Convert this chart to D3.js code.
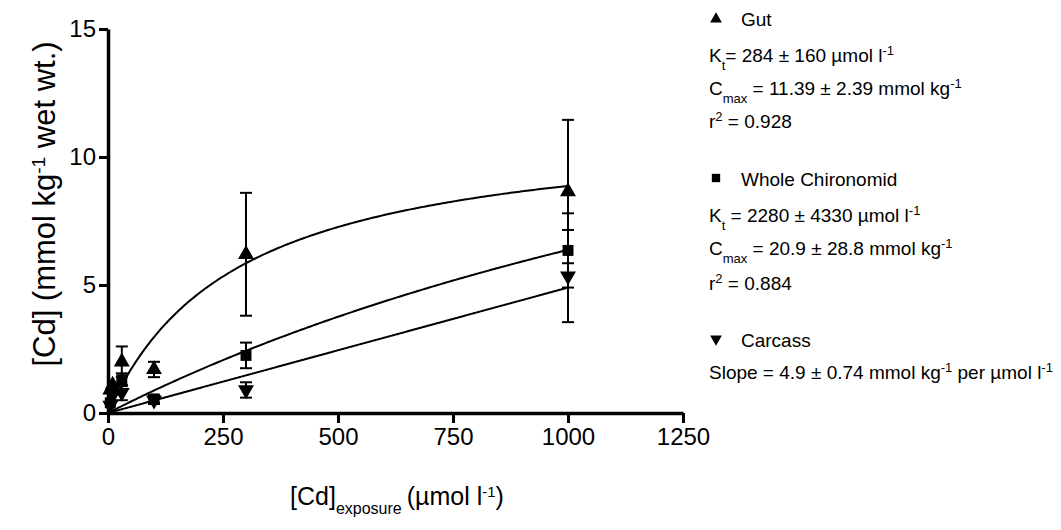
<!DOCTYPE html>
<html>
<head>
<meta charset="utf-8">
<script src="https://cdn.jsdelivr.net/npm/d3@7"></script>
<style>
  body { margin: 0; background: #fff; }
  svg { display: block; font-family: "Liberation Sans", Arial, sans-serif; }
</style>
</head>
<body>
<div id="chart"></div>
<script>
// exposure concentrations (umol/l) and measured Cd (mmol/kg wet wt)
const gutX = [5, 10, 30, 100, 300, 1000];
const gutY = [0.9, 1.1, 2.0, 1.7, 6.2, 8.65];
const gutErr = [0, 0, 0.6, 0.3, 2.4, 2.8];

const wholeX = [5, 10, 30, 100, 300, 1000];
const wholeY = [0.4, 1.0, 1.3, 0.55, 2.25, 6.35];
const wholeErr = [0, 0, 0.25, 0.15, 0.5, 1.45];

const carcassX = [5, 10, 30, 100, 300, 1000];
const carcassY = [0.3, 0.7, 0.8, 0.5, 0.9, 5.35];
const carcassErr = [0, 0, 0.3, 0.15, 0.3, 1.8];

// fitted parameters shown in the legend
const gutKt = 284, gutCmax = 11.39;
const wholeKt = 2280, wholeCmax = 20.9;
const carcassSlope = 0.0049;

const xTicks = [0, 250, 500, 750, 1000, 1250];
const yTicks = [0, 5, 10, 15];

const width = 1061, height = 530;

const svg = d3.select("#chart").append("svg")
  .attr("width", width)
  .attr("height", height);

const x = d3.scaleLinear().domain([0, 1250]).range([108, 683]);
const y = d3.scaleLinear().domain([0, 15]).range([413, 29]);

// axes
const xAxis = svg.append("g")
  .attr("transform", `translate(0,${y(0)})`)
  .call(d3.axisBottom(x).tickValues(xTicks).tickFormat(d3.format("d"))
    .tickSize(10).tickPadding(5).tickSizeOuter(0));

const yAxis = svg.append("g")
  .attr("transform", `translate(${x(0)},0)`)
  .call(d3.axisLeft(y).tickValues(yTicks).tickFormat(d3.format("d"))
    .tickSize(9).tickPadding(3).tickSizeOuter(0));

[xAxis, yAxis].forEach(a => {
  a.select(".domain").attr("stroke", "#000").attr("stroke-width", 3.5);
  a.selectAll(".tick line").attr("stroke", "#000").attr("stroke-width", 3);
  a.selectAll(".tick text")
    .attr("fill", "#000")
    .style("font-size", "24px")
    .style("font-family", "Liberation Sans, Arial, sans-serif");
});

// axis titles
const yTitle = svg.append("text")
  .attr("transform", `translate(55,${204}) rotate(-90)`)
  .attr("text-anchor", "middle")
  .style("font-size", "31px");
yTitle.append("tspan").text("[Cd] (mmol kg");
yTitle.append("tspan").attr("baseline-shift", "super").style("font-size", "19px").text("-1");
yTitle.append("tspan").text(" wet wt.)");

const xTitle = svg.append("text")
  .attr("x", 397)
  .attr("y", 505)
  .attr("text-anchor", "middle")
  .style("font-size", "25px");
xTitle.append("tspan").text("[Cd]");
xTitle.append("tspan").attr("baseline-shift", "sub").style("font-size", "16px").text("exposure");
xTitle.append("tspan").attr("dx", 5).text("(\u00b5mol l");
xTitle.append("tspan").attr("baseline-shift", "super").style("font-size", "15px").text("-1");
xTitle.append("tspan").text(")");

// fitted curves
const curveX = d3.range(0, 1001, 5);
const line = d3.line().x(d => x(d[0])).y(d => y(d[1]));

svg.append("path")
  .datum(curveX.map(c => [c, gutCmax * c / (gutKt + c)]))
  .attr("d", line).attr("fill", "none").attr("stroke", "#000").attr("stroke-width", 2);

svg.append("path")
  .datum(curveX.map(c => [c, wholeCmax * c / (wholeKt + c)]))
  .attr("d", line).attr("fill", "none").attr("stroke", "#000").attr("stroke-width", 2);

svg.append("path")
  .datum(curveX.map(c => [c, carcassSlope * c]))
  .attr("d", line).attr("fill", "none").attr("stroke", "#000").attr("stroke-width", 2);

// markers
const triUp = d3.symbol().type(d3.symbolTriangle).size(110);
const square = d3.symbol().type(d3.symbolSquare).size(120);

function drawSeries(xs, ys, errs, sym, rot) {
  const data = xs.map((v, i) => ({ x: v, y: ys[i], e: errs[i] }));
  const g = svg.append("g");

  const eb = g.selectAll(".err")
    .data(data.filter(d => d.e > 0))
    .enter().append("g");
  eb.append("line")
    .attr("x1", d => x(d.x)).attr("x2", d => x(d.x))
    .attr("y1", d => y(d.y - d.e)).attr("y2", d => y(d.y + d.e))
    .attr("stroke", "#000").attr("stroke-width", 2);
  eb.append("line")
    .attr("x1", d => x(d.x) - 6).attr("x2", d => x(d.x) + 6)
    .attr("y1", d => y(d.y + d.e)).attr("y2", d => y(d.y + d.e))
    .attr("stroke", "#000").attr("stroke-width", 2);
  eb.append("line")
    .attr("x1", d => x(d.x) - 6).attr("x2", d => x(d.x) + 6)
    .attr("y1", d => y(d.y - d.e)).attr("y2", d => y(d.y - d.e))
    .attr("stroke", "#000").attr("stroke-width", 2);

  g.selectAll(".pt")
    .data(data)
    .enter().append("path")
    .attr("d", sym)
    .attr("fill", "#000")
    .attr("transform", d => `translate(${x(d.x)},${y(d.y)}) rotate(${rot})`);
}

drawSeries(gutX, gutY, gutErr, triUp, 0);
drawSeries(wholeX, wholeY, wholeErr, square, 0);
drawSeries(carcassX, carcassY, carcassErr, triUp, 180);

// legend / fit statistics
const legend = svg.append("g").style("font-size", "19px");

function legendLine(yPos, xPos, parts) {
  const t = legend.append("text").attr("x", xPos).attr("y", yPos);
  parts.forEach(p => {
    const s = t.append("tspan").text(p[0]);
    if (p[1] === "sub") s.attr("baseline-shift", "sub").style("font-size", "13px");
    if (p[1] === "sup") s.attr("baseline-shift", "super").style("font-size", "13px");
  });
}

const legendSym = d3.symbol().type(d3.symbolTriangle).size(60);
legend.append("path").attr("d", legendSym).attr("transform", "translate(716,19)");
legend.append("path").attr("d", d3.symbol().type(d3.symbolSquare).size(70)).attr("transform", "translate(716,178)");
legend.append("path").attr("d", legendSym).attr("transform", "translate(716,339) rotate(180)");

legendLine(26, 741, [["Gut"]]);
legendLine(62, 709, [["K"], ["t", "sub"], ["= 284 \u00b1 160 \u00b5mol l"], ["-1", "sup"]]);
legendLine(95, 709, [["C"], ["max", "sub"], [" = 11.39 \u00b1 2.39 mmol kg"], ["-1", "sup"]]);
legendLine(128, 709, [["r"], ["2", "sup"], [" = 0.928"]]);

legendLine(186, 741, [["Whole Chironomid"]]);
legendLine(222, 709, [["K"], ["t", "sub"], [" = 2280 \u00b1 4330 \u00b5mol l"], ["-1", "sup"]]);
legendLine(255, 709, [["C"], ["max", "sub"], [" = 20.9 \u00b1 28.8 mmol kg"], ["-1", "sup"]]);
legendLine(290, 709, [["r"], ["2", "sup"], [" = 0.884"]]);

legendLine(347, 741, [["Carcass"]]);
legendLine(379, 709, [["Slope = 4.9 \u00b1 0.74 mmol kg"], ["-1", "sup"], [" per \u00b5mol l"], ["-1", "sup"]]);
</script>
</body>
</html>
